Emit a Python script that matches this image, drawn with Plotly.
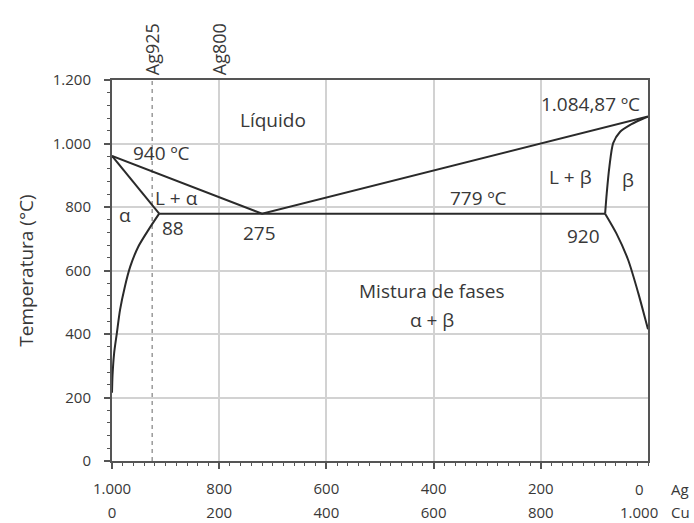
import plotly.graph_objects as go

# Data (x = Ag content in ‰, y = temperature °C)
liquidus_x = [1000, 720, 0]
liquidus_y = [961, 779, 1084.87]

solidus_a_x = [1000, 912]
solidus_a_y = [961, 779]

eutectic_x = [912, 80]
eutectic_y = [779, 779]

solvus_a_x = [912, 932, 951, 966, 976, 985, 991, 996, 999, 1000]
solvus_a_y = [779, 728, 675, 612, 549, 476, 402, 340, 270, 215]

solidus_b_x = [80, 77, 72, 65, 52, 34, 15, 0]
solidus_b_y = [779, 843, 927, 1001, 1037, 1058, 1074, 1084.87]

solvus_b_x = [80, 59, 37, 18, 3, 0]
solvus_b_y = [779, 717, 633, 528, 434, 415]

alloy_lines = [925, 800]
alloy_names = ["Ag925", "Ag800"]

x_ticks = [1000, 800, 600, 400, 200, 0]
ag_ticktext = ["1.000", "800", "600", "400", "200", "0"]
cu_ticktext = ["0", "200", "400", "600", "800", "1.000"]
y_ticks = [0, 200, 400, 600, 800, 1000, 1200]
y_ticktext = ["0", "200", "400", "600", "800", "1.000", "1.200"]

labels = [
    ("Líquido", 700, 1074),
    ("940 ºC", 907, 970),
    ("1.084,87 ºC", 108, 1124),
    ("L + α", 879, 828),
    ("α", 976, 775),
    ("88", 886, 734),
    ("275", 724, 718),
    ("779 ºC", 317, 828),
    ("L + β", 144, 894),
    ("β", 37, 885),
    ("920", 121, 709),
    ("Mistura de fases", 403, 536),
    ("α + β", 403, 444),
]

FONT = "Open Sans"
TXT = "#383838"
LINE = "#2a2a2a"
TICKF = 15
LABF = 19

fig = go.Figure()

# dashed Ag925 line
fig.add_trace(go.Scatter(x=[alloy_lines[0], alloy_lines[0]], y=[0, 1200], mode="lines",
                         line=dict(color="#9a9a9a", width=1.5, dash="4px,4px"), hoverinfo="skip"))

def add_line(x, y, shape="linear"):
    fig.add_trace(go.Scatter(x=x, y=y, mode="lines",
                             line=dict(color=LINE, width=2, shape=shape, smoothing=0.7)))

add_line(liquidus_x, liquidus_y)
add_line(solidus_a_x, solidus_a_y)
add_line(eutectic_x, eutectic_y)
add_line(solvus_a_x, solvus_a_y, "spline")
add_line(solidus_b_x, solidus_b_y, "spline")
add_line(solvus_b_x, solvus_b_y, "spline")

# invisible trace on the Cu axis so it renders
fig.add_trace(go.Scatter(x=[x_ticks[0], x_ticks[-1]], y=[0, 0], xaxis="x2", mode="lines",
                         line=dict(width=0), hoverinfo="skip", showlegend=False))

for t, x, y in labels:
    fig.add_annotation(x=x, y=y, text=t, showarrow=False,
                       font=dict(family=FONT, size=LABF, color=TXT))

for xv, name in zip(alloy_lines, alloy_names):
    fig.add_annotation(x=xv, y=1, xref="x", yref="paper", text=name, textangle=-90,
                       showarrow=False, yanchor="bottom", xanchor="center", yshift=3,
                       font=dict(family=FONT, size=18, color=TXT))

# last tick labels sit slightly left of the tick in the reference
fig.add_annotation(x=x_ticks[-1], y=-0.073, xref="x", yref="paper", text=ag_ticktext[-1],
                   showarrow=False, xshift=-9, yanchor="middle",
                   font=dict(family=FONT, size=TICKF, color=TXT))
fig.add_annotation(x=x_ticks[-1], y=-0.134, xref="x", yref="paper", text=cu_ticktext[-1],
                   showarrow=False, xshift=-9, yanchor="middle",
                   font=dict(family=FONT, size=TICKF, color=TXT))

AGCU_X = (669 - 112) / 536
fig.add_annotation(x=AGCU_X, y=-0.073, xref="paper", yref="paper", text="Ag", showarrow=False,
                   xanchor="left", yanchor="middle", font=dict(family=FONT, size=TICKF, color=TXT))
fig.add_annotation(x=AGCU_X, y=-0.134, xref="paper", yref="paper", text="Cu", showarrow=False,
                   xanchor="left", yanchor="middle", font=dict(family=FONT, size=TICKF, color=TXT))

fig.update_layout(
    width=694, height=523,
    margin=dict(l=112, r=46, t=80, b=62),
    paper_bgcolor="white", plot_bgcolor="white",
    showlegend=False,
    font=dict(family=FONT, size=TICKF, color=TXT),
    xaxis2=dict(overlaying="x", side="bottom", anchor="y", range=[1000, 0],
                tickvals=x_ticks[:-1], ticktext=cu_ticktext[:-1], showgrid=False,
                showline=False, ticks="", zeroline=False, ticklabelstandoff=41,
                automargin=False,
                tickfont=dict(family=FONT, size=TICKF, color=TXT)),
    xaxis=dict(
        range=[1000, 0], tickvals=x_ticks[:-1], ticktext=ag_ticktext[:-1],
        showgrid=True, gridcolor="#d2d2d2", gridwidth=1.5,
        showline=True, linecolor="#555555", linewidth=2, mirror=True,
        ticks="outside", ticklen=6, tickcolor="#555555", tickwidth=1.5,
        minor=dict(dtick=20, ticks="outside", ticklen=3, tickcolor="#555555", tickwidth=1, showgrid=False),
        zeroline=False, tickfont=dict(family=FONT, size=TICKF, color=TXT), ticklabelstandoff=7,
        automargin=False,
    ),
    yaxis=dict(
        range=[0, 1200], tickvals=y_ticks, ticktext=y_ticktext,
        showgrid=True, gridcolor="#d2d2d2", gridwidth=1.5,
        showline=True, linecolor="#555555", linewidth=2, mirror=True,
        ticks="outside", ticklen=6, tickcolor="#555555", tickwidth=1.5,
        minor=dict(dtick=40, ticks="outside", ticklen=3, tickcolor="#555555", tickwidth=1, showgrid=False),
        zeroline=False, tickfont=dict(family=FONT, size=TICKF, color=TXT), ticklabelstandoff=10,
        automargin=False,
        title=dict(text="Temperatura (°C)", font=dict(family=FONT, size=19, color=TXT), standoff=14),
    ),
)

fig.write_html("out.html")
